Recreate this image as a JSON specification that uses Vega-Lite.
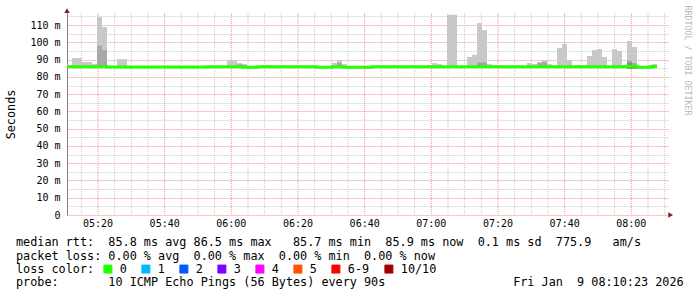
{
  "$schema": "https://vega.github.io/schema/vega-lite/v6.json",
  "width": 601,
  "height": 202,
  "autosize": {"type": "none"},
  "padding": {"left": 67, "top": 13, "right": 29, "bottom": 82},
  "background": "white",
  "title": {
    "text": [
      "median rtt:\u00a0\u00a085.8\u00a0ms\u00a0avg\u00a086.5\u00a0ms\u00a0max\u00a0\u00a0\u00a085.7\u00a0ms\u00a0min\u00a0\u00a085.9\u00a0ms\u00a0now\u00a0\u00a00.1\u00a0ms\u00a0sd\u00a0\u00a0775.9\u00a0\u00a0\u00a0am/s",
      "packet\u00a0loss:\u00a00.00\u00a0%\u00a0avg\u00a0\u00a00.00\u00a0%\u00a0max\u00a0\u00a00.00\u00a0%\u00a0min\u00a0\u00a00.00\u00a0%\u00a0now"
    ],
    "subtitle": "probe:\u00a0\u00a0\u00a0\u00a0\u00a0\u00a0\u00a010\u00a0ICMP\u00a0Echo\u00a0Pings\u00a0(56\u00a0Bytes)\u00a0every\u00a090s\u00a0\u00a0\u00a0\u00a0\u00a0\u00a0\u00a0\u00a0\u00a0\u00a0\u00a0\u00a0\u00a0\u00a0\u00a0\u00a0\u00a0\u00a0Fri\u00a0Jan\u00a0\u00a09\u00a008:10:23\u00a02026",
    "orient": "bottom",
    "anchor": "start",
    "frame": "group",
    "dx": -51,
    "dy": -44,
    "offset": 5,
    "font": "DejaVu Sans Mono",
    "fontSize": 11.8,
    "fontWeight": "normal",
    "color": "black",
    "lineHeight": 14,
    "baseline": "top",
    "subtitleFont": "DejaVu Sans Mono",
    "subtitleFontSize": 11.8,
    "subtitleFontWeight": "normal",
    "subtitleColor": "black",
    "subtitleLineHeight": 14,
    "subtitlePadding": 14
  },
  "datasets": {
    "xgrid": [
      {"t": 315, "kind": "minor"}, {"t": 320, "kind": "major"}, {"t": 325, "kind": "minor"}, {"t": 330, "kind": "minor"},
      {"t": 335, "kind": "minor"}, {"t": 340, "kind": "major"}, {"t": 345, "kind": "minor"}, {"t": 350, "kind": "minor"},
      {"t": 355, "kind": "minor"}, {"t": 360, "kind": "major"}, {"t": 365, "kind": "minor"}, {"t": 370, "kind": "minor"},
      {"t": 375, "kind": "minor"}, {"t": 380, "kind": "major"}, {"t": 385, "kind": "minor"}, {"t": 390, "kind": "minor"},
      {"t": 395, "kind": "minor"}, {"t": 400, "kind": "major"}, {"t": 405, "kind": "minor"}, {"t": 410, "kind": "minor"},
      {"t": 415, "kind": "minor"}, {"t": 420, "kind": "major"}, {"t": 425, "kind": "minor"}, {"t": 430, "kind": "minor"},
      {"t": 435, "kind": "minor"}, {"t": 440, "kind": "major"}, {"t": 445, "kind": "minor"}, {"t": 450, "kind": "minor"},
      {"t": 455, "kind": "minor"}, {"t": 460, "kind": "major"}, {"t": 465, "kind": "minor"}, {"t": 470, "kind": "minor"},
      {"t": 475, "kind": "minor"}, {"t": 480, "kind": "major"}, {"t": 485, "kind": "minor"}, {"t": 490, "kind": "minor"}
    ],
    "xlabels": [
      {"t": 320, "label": "05:20"}, {"t": 340, "label": "05:40"}, {"t": 360, "label": "06:00"},
      {"t": 380, "label": "06:20"}, {"t": 400, "label": "06:40"}, {"t": 420, "label": "07:00"},
      {"t": 440, "label": "07:20"}, {"t": 460, "label": "07:40"}, {"t": 480, "label": "08:00"}
    ],
    "smoke": [
      {"t0": 310.7, "t1": 312.2, "lo": 85.3, "hi": 86.9, "band": "outer"},
      {"t0": 312.2, "t1": 315.2, "lo": 85.3, "hi": 90.9, "band": "outer"},
      {"t0": 315.2, "t1": 318.2, "lo": 85.3, "hi": 88.6, "band": "outer"},
      {"t0": 318.2, "t1": 319.7, "lo": 85.3, "hi": 87.6, "band": "outer"},
      {"t0": 319.7, "t1": 321.2, "lo": 85.3, "hi": 114.6, "band": "outer"},
      {"t0": 321.2, "t1": 322.7, "lo": 85.3, "hi": 108.9, "band": "outer"},
      {"t0": 325.7, "t1": 328.7, "lo": 85.3, "hi": 90.3, "band": "outer"},
      {"t0": 358.7, "t1": 361.7, "lo": 85.3, "hi": 89.7, "band": "outer"},
      {"t0": 361.7, "t1": 363.2, "lo": 85.3, "hi": 88.0, "band": "outer"},
      {"t0": 363.2, "t1": 364.7, "lo": 85.3, "hi": 87.3, "band": "outer"},
      {"t0": 369.2, "t1": 372.2, "lo": 85.3, "hi": 86.9, "band": "outer"},
      {"t0": 390.2, "t1": 391.7, "lo": 85.3, "hi": 88.2, "band": "outer"},
      {"t0": 391.7, "t1": 393.2, "lo": 85.3, "hi": 89.7, "band": "outer"},
      {"t0": 393.2, "t1": 394.7, "lo": 85.3, "hi": 87.4, "band": "outer"},
      {"t0": 418.7, "t1": 420.2, "lo": 85.3, "hi": 86.9, "band": "outer"},
      {"t0": 420.2, "t1": 421.7, "lo": 85.3, "hi": 88.0, "band": "outer"},
      {"t0": 421.7, "t1": 423.2, "lo": 85.3, "hi": 87.4, "band": "outer"},
      {"t0": 424.7, "t1": 427.7, "lo": 85.3, "hi": 116.0, "band": "outer"},
      {"t0": 430.7, "t1": 432.2, "lo": 85.3, "hi": 91.5, "band": "outer"},
      {"t0": 432.2, "t1": 433.7, "lo": 85.3, "hi": 92.8, "band": "outer"},
      {"t0": 433.7, "t1": 435.2, "lo": 85.3, "hi": 111.2, "band": "outer"},
      {"t0": 435.2, "t1": 436.7, "lo": 85.3, "hi": 107.1, "band": "outer"},
      {"t0": 436.7, "t1": 438.2, "lo": 85.3, "hi": 87.4, "band": "outer"},
      {"t0": 438.2, "t1": 439.7, "lo": 85.3, "hi": 86.9, "band": "outer"},
      {"t0": 448.7, "t1": 450.2, "lo": 85.3, "hi": 88.0, "band": "outer"},
      {"t0": 450.2, "t1": 451.7, "lo": 85.3, "hi": 87.4, "band": "outer"},
      {"t0": 451.7, "t1": 453.2, "lo": 85.3, "hi": 88.6, "band": "outer"},
      {"t0": 453.2, "t1": 454.7, "lo": 85.3, "hi": 89.6, "band": "outer"},
      {"t0": 454.7, "t1": 456.2, "lo": 85.3, "hi": 87.4, "band": "outer"},
      {"t0": 457.7, "t1": 459.2, "lo": 85.3, "hi": 96.7, "band": "outer"},
      {"t0": 459.2, "t1": 460.7, "lo": 85.3, "hi": 99.0, "band": "outer"},
      {"t0": 460.7, "t1": 462.2, "lo": 85.3, "hi": 89.7, "band": "outer"},
      {"t0": 463.7, "t1": 466.7, "lo": 85.3, "hi": 86.9, "band": "outer"},
      {"t0": 466.7, "t1": 468.2, "lo": 85.3, "hi": 92.1, "band": "outer"},
      {"t0": 468.2, "t1": 469.7, "lo": 85.3, "hi": 95.5, "band": "outer"},
      {"t0": 469.7, "t1": 471.2, "lo": 85.3, "hi": 96.1, "band": "outer"},
      {"t0": 471.2, "t1": 472.7, "lo": 85.3, "hi": 91.5, "band": "outer"},
      {"t0": 474.2, "t1": 475.7, "lo": 85.3, "hi": 96.1, "band": "outer"},
      {"t0": 475.7, "t1": 477.2, "lo": 85.3, "hi": 95.0, "band": "outer"},
      {"t0": 477.2, "t1": 478.7, "lo": 85.3, "hi": 86.9, "band": "outer"},
      {"t0": 478.7, "t1": 480.2, "lo": 85.3, "hi": 100.8, "band": "outer"},
      {"t0": 480.2, "t1": 481.7, "lo": 85.3, "hi": 97.3, "band": "outer"},
      {"t0": 484.7, "t1": 486.2, "lo": 85.3, "hi": 86.9, "band": "outer"},
      {"t0": 486.2, "t1": 487.7, "lo": 85.3, "hi": 87.4, "band": "outer"},
      {"t0": 319.7, "t1": 321.2, "lo": 85.3, "hi": 98.0, "band": "mid"},
      {"t0": 321.2, "t1": 322.7, "lo": 85.3, "hi": 95.5, "band": "mid"},
      {"t0": 361.7, "t1": 363.2, "lo": 85.3, "hi": 87.3, "band": "mid"},
      {"t0": 363.2, "t1": 364.7, "lo": 85.3, "hi": 87.0, "band": "mid"},
      {"t0": 391.7, "t1": 393.2, "lo": 85.3, "hi": 88.2, "band": "mid"},
      {"t0": 433.7, "t1": 435.2, "lo": 85.3, "hi": 88.4, "band": "mid"},
      {"t0": 435.2, "t1": 436.7, "lo": 85.3, "hi": 88.4, "band": "mid"},
      {"t0": 451.7, "t1": 453.2, "lo": 85.3, "hi": 88.0, "band": "mid"},
      {"t0": 453.2, "t1": 454.7, "lo": 85.3, "hi": 88.6, "band": "mid"},
      {"t0": 478.7, "t1": 480.2, "lo": 85.3, "hi": 89.4, "band": "mid"},
      {"t0": 480.2, "t1": 481.7, "lo": 85.3, "hi": 88.0, "band": "mid"},
      {"t0": 433.7, "t1": 435.2, "lo": 85.3, "hi": 86.9, "band": "inner"},
      {"t0": 478.7, "t1": 480.2, "lo": 85.3, "hi": 88.2, "band": "inner"},
      {"t0": 478.7, "t1": 481.7, "lo": 84.9, "hi": 85.4, "band": "core"}
    ],
    "median": [
      {"t": 310.7, "v": 85.9, "loss": "0"},
      {"t": 322.7, "v": 85.7, "loss": "0"},
      {"t": 352.7, "v": 85.9, "loss": "0"},
      {"t": 363.2, "v": 85.6, "loss": "0"},
      {"t": 367.7, "v": 85.9, "loss": "0"},
      {"t": 385.7, "v": 85.6, "loss": "0"},
      {"t": 390.2, "v": 85.9, "loss": "0"},
      {"t": 393.2, "v": 85.6, "loss": "0"},
      {"t": 402.2, "v": 85.8, "loss": "0"},
      {"t": 478.7, "v": 86.2, "loss": "0"},
      {"t": 481.7, "v": 85.6, "loss": "0"},
      {"t": 486.2, "v": 86.0, "loss": "0"},
      {"t": 487.7, "v": 86.0, "loss": "0"}
    ],
    "arrows": [
      {"t": 310.7, "v": 118.4, "dir": "up"},
      {"t": 491.8, "v": 0, "dir": "right"}
    ]
  },
  "layer": [
    {
      "data": {"name": "xgrid"},
      "mark": {"type": "rule", "strokeDash": [1, 1], "strokeWidth": 1},
      "encoding": {
        "x": {
          "field": "t", "type": "quantitative", "title": "",
          "scale": {"domain": [310.7, 491.0], "nice": false, "zero": false},
          "axis": {
            "orient": "bottom", "labels": false, "grid": false, "ticks": false,
            "domainColor": "black", "domainWidth": 1
          }
        },
        "stroke": {
          "field": "kind", "type": "nominal", "legend": null,
          "scale": {"domain": ["major", "minor"], "range": ["#f09090", "#c8c8c8"]}
        }
      }
    },
    {
      "data": {"name": "smoke"},
      "mark": {"type": "rect", "clip": true, "strokeWidth": 0},
      "encoding": {
        "x": {"field": "t0", "type": "quantitative", "title": "", "axis": null},
        "x2": {"field": "t1"},
        "y": {
          "field": "lo", "type": "quantitative", "title": "Seconds",
          "scale": {"domain": [0, 117], "nice": false, "zero": true},
          "axis": {
            "orient": "left",
            "values": [0,5,10,15,20,25,30,35,40,45,50,55,60,65,70,75,80,85,90,95,100,105,110,115],
            "labelExpr": "datum.value % 10 == 0 ? (datum.value == 0 ? '0\u00a0\u00a0' : datum.value + '\u00a0m') : ''",
            "labelFont": "DejaVu Sans Mono", "labelFontSize": 10, "labelColor": "black",
            "labelPadding": 7, "labelOverlap": false, "labelBound": false, "labelFlush": false,
            "ticks": false, "tickSize": 0,
            "domainColor": "#808080", "domainWidth": 1,
            "grid": true, "gridDash": [1, 1], "gridWidth": 1,
            "gridColor": {"condition": {"test": "datum.value % 10 == 0", "value": "#f09090"}, "value": "#c8c8c8"},
            "titleFont": "DejaVu Sans Mono", "titleFontSize": 11.8, "titleFontWeight": "normal",
            "titleColor": "black", "titlePadding": 13
          }
        },
        "y2": {"field": "hi"},
        "fill": {
          "field": "band", "type": "nominal", "legend": null,
          "scale": {"domain": ["outer", "mid", "inner", "core"], "range": ["#c8c8c8", "#a8a8a8", "#8c8c8c", "#303030"]}
        }
      }
    },
    {
      "data": {"name": "median"},
      "mark": {"type": "line", "interpolate": "step-after", "strokeWidth": 3, "clip": true, "strokeCap": "butt"},
      "encoding": {
        "x": {"field": "t", "type": "quantitative", "title": "", "axis": null},
        "y": {"field": "v", "type": "quantitative", "axis": null},
        "color": {
          "field": "loss", "type": "nominal",
          "scale": {
            "domain": ["0", "1", "2", "3", "4", "5", "6-9", "10/10"],
            "range": ["#26ff00", "#00b8ff", "#0059ff", "#7e00ff", "#ff00ff", "#ff5500", "#ff0000", "#a10000"]
          },
          "legend": {
            "orient": "none", "legendX": -51, "legendY": 250,
            "direction": "horizontal",
            "title": "loss color:", "titleOrient": "left",
            "titleFont": "DejaVu Sans Mono", "titleFontSize": 11.8, "titleFontWeight": "normal",
            "titleColor": "black", "titlePadding": 7,
            "labelFont": "DejaVu Sans Mono", "labelFontSize": 11.8, "labelColor": "black",
            "labelOffset": 6, "columnPadding": 12,
            "symbolType": "square", "symbolSize": 64,
            "symbolStrokeColor": "black", "symbolStrokeWidth": 1, "symbolOpacity": 1,
            "encode": {
              "symbols": {
                "update": {
                  "fill": {"scale": "color", "field": "value"},
                  "stroke": {"value": "black"},
                  "strokeWidth": {"value": 1},
                  "opacity": {"value": 1}
                }
              }
            }
          }
        }
      }
    },
    {
      "data": {"name": "xlabels"},
      "mark": {"type": "text", "baseline": "middle", "align": "center", "dy": 9, "font": "DejaVu Sans Mono", "fontSize": 10, "color": "black", "clip": false},
      "encoding": {
        "x": {"field": "t", "type": "quantitative", "title": "", "axis": null},
        "y": {"datum": 0, "type": "quantitative", "axis": null},
        "text": {"field": "label", "type": "nominal"}
      }
    },
    {
      "data": {"name": "arrows"},
      "mark": {"type": "point", "filled": true, "clip": false, "size": 30, "opacity": 1, "color": "#8b1a1a"},
      "encoding": {
        "x": {"field": "t", "type": "quantitative", "title": "", "axis": null},
        "y": {
          "field": "v", "type": "quantitative",
          "axis": {
            "orient": "right",
            "title": "RRDTOOL / TOBI OETIKER",
            "domain": false, "ticks": false, "labels": false, "grid": false,
            "titleAngle": 90, "titleX": 18, "titleY": -8,
            "titleAlign": "left", "titleBaseline": "middle",
            "titleFont": "DejaVu Sans Mono", "titleFontSize": 8.3, "titleFontWeight": "normal",
            "titleColor": "#b8b8b8"
          }
        },
        "shape": {
          "field": "dir", "type": "nominal", "legend": null,
          "scale": {"domain": ["up", "right"], "range": ["triangle-up", "triangle-right"]}
        }
      }
    }
  ],
  "resolve": {"axis": {"x": "shared", "y": "independent"}},
  "config": {
    "view": {"stroke": null},
    "font": "DejaVu Sans Mono"
  }
}
